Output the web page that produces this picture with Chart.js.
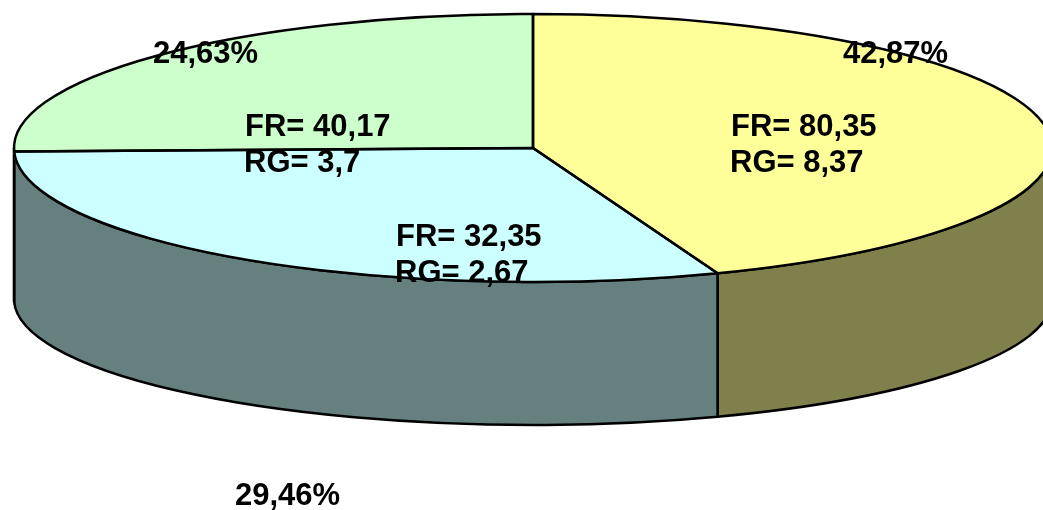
<!DOCTYPE html>
<html>
<head>
<meta charset="utf-8">
<style>
  html, body { margin: 0; padding: 0; background: #ffffff; }
  #wrap { width: 1043px; height: 510px; }
</style>
<script src="https://cdn.jsdelivr.net/npm/chart.js@4.4.1/dist/chart.umd.min.js"></script>
</head>
<body>
<div id="wrap"><canvas id="c" width="1043" height="510"></canvas></div>
<script>
// ---- data ----
const categories = ['A', 'B', 'C'];
const shares = [42.87, 29.46, 24.63];          // percent labels / slice sizes
const frValues = [80.35, 32.35, 40.17];
const rgValues = [8.37, 2.67, 3.7];

// ---- styles / layout ----
const topColors  = ['#FFFF99', '#CCFFFF', '#CCFFCC'];
const sideColors = ['#80804C', '#668080', '#668066'];
const CX = 533, CY = 148, RX = 519, RY = 134;
const CY_BOT = 299, RY_BOT = 126;
const FONT = 'bold 31px "Liberation Sans", Arial, sans-serif';
const pctPos = [[843, 63], [235, 505], [153, 63]];
const valPos = [[731, 136], [396, 246], [245, 136]];
const LINE_GAP = 36;

const fmt = v => String(v).replace('.', ',');

const pie3d = {
  id: 'pie3d',
  beforeDatasetsDraw(chart) {
    const ctx = chart.ctx;
    const meta = chart.getDatasetMeta(0);
    // side walls (front half only: angles 0..PI)
    ctx.save();
    ctx.lineWidth = 2.5;
    ctx.strokeStyle = '#000';
    ctx.lineJoin = 'round';
    meta.data.forEach((el, i) => {
      const p = el.getProps(['startAngle', 'endAngle'], true);
      for (let k = -1; k <= 1; k++) {
        const off = k * 2 * Math.PI;
        const b0 = Math.max(p.startAngle - off, 0);
        const b1 = Math.min(p.endAngle - off, Math.PI);
        if (b1 > b0) {
          ctx.beginPath();
          ctx.ellipse(CX, CY, RX, RY, 0, b0, b1);
          ctx.ellipse(CX, CY_BOT, RX, RY_BOT, 0, b1, b0, true);
          ctx.closePath();
          ctx.fillStyle = sideColors[i];
          ctx.fill();
          ctx.stroke();
        }
      }
    });
    ctx.restore();
    // squash the library's pie into the top ellipse
    const el = meta.data[0];
    ctx.save();
    ctx.translate(CX, CY);
    ctx.scale(RX / el.outerRadius, RY / el.outerRadius);
    ctx.translate(-el.x, -el.y);
  },
  afterDatasetsDraw(chart) {
    const ctx = chart.ctx;
    ctx.restore();
    const meta = chart.getDatasetMeta(0);
    // labels
    ctx.save();
    ctx.fillStyle = '#000';
    ctx.font = FONT;
    ctx.textAlign = 'left';
    ctx.textBaseline = 'alphabetic';
    shares.forEach((s, i) => {
      ctx.fillText(fmt(s) + '%', pctPos[i][0], pctPos[i][1]);
      ctx.fillText('FR= ' + fmt(frValues[i]), valPos[i][0], valPos[i][1]);
      ctx.fillText('RG= ' + fmt(rgValues[i]), valPos[i][0] - 1, valPos[i][1] + LINE_GAP);
    });
    ctx.restore();
    // top outlines
    ctx.save();
    ctx.lineWidth = 2.5;
    ctx.strokeStyle = '#000';
    ctx.lineJoin = 'round';
    meta.data.forEach(el => {
      const p = el.getProps(['startAngle', 'endAngle'], true);
      ctx.beginPath();
      ctx.moveTo(CX, CY);
      ctx.ellipse(CX, CY, RX, RY, 0, p.startAngle, p.endAngle);
      ctx.closePath();
      ctx.stroke();
    });
    ctx.restore();
  }
};

new Chart(document.getElementById('c'), {
  type: 'pie',
  data: {
    labels: categories,
    datasets: [{
      data: shares,
      backgroundColor: topColors,
      borderColor: topColors,
      borderWidth: 1,
      hoverOffset: 0
    }]
  },
  options: {
    responsive: false,
    animation: false,
    layout: { padding: 0 },
    plugins: { legend: { display: false }, tooltip: { enabled: false } },
    events: []
  },
  plugins: [pie3d]
});
</script>
</body>
</html>
